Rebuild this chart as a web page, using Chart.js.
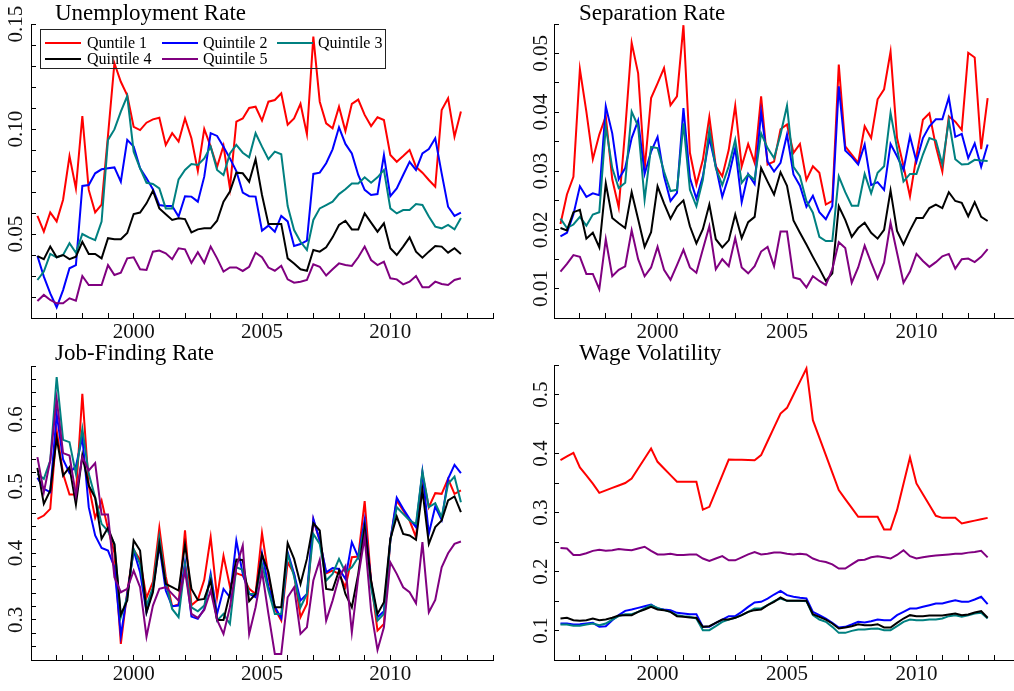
<!DOCTYPE html>
<html lang="en">
<head>
<meta charset="UTF-8">
<title>Labour market by quintile</title>
<script src="https://cdn.jsdelivr.net/npm/chart.js"></script>
<style>
  html, body { margin: 0; padding: 0; background: #fff; }
  body { width: 1014px; height: 691px; overflow: hidden; position: relative; font-family: "Liberation Serif", serif; }
  canvas { position: absolute; }
  .title { position: absolute; font-size: 23px; line-height: 23px; color: #000; white-space: nowrap; }
  #legend { position: absolute; left: 40px; top: 29px; width: 344px; height: 38px; border: 1px solid #222; }
  .lg-text { position: absolute; font-size: 16px; line-height: 16px; color: #000; white-space: nowrap; }
  .lg-line { position: absolute; width: 36px; height: 2px; }
</style>
</head>
<body>
<canvas id="unemp" width="500" height="352" style="left:0;top:0"></canvas>
<canvas id="sep" width="530" height="352" style="left:500px;top:0"></canvas>
<canvas id="jobfind" width="500" height="351" style="left:0;top:340px"></canvas>
<canvas id="wage" width="530" height="351" style="left:500px;top:340px"></canvas>
<div id="legend"></div>

<script>
// quarterly dates, 1996Q2 .. 2012Q4
const quarters = [];
for (let q = 0; q < 67; q++) quarters.push(1996.25 + q * 0.25);

const names = ["Quntile 1", "Quintile 2", "Quintile 3", "Quintile 4", "Quintile 5"];
const colors = ["#ff0000", "#0000ff", "#008080", "#000000", "#800080"];
const titles = ["Unemployment Rate", "Separation Rate", "Job-Finding Rate", "Wage Volatility"];

// Unemployment rate
const unemp1 = [0.0586,0.0511,0.0603,0.0560,0.0663,0.0871,0.0717,0.1062,0.0710,0.0603,0.0640,0.0970,0.1313,0.1225,0.1160,0.1010,0.0995,0.1030,0.1046,0.1054,0.0924,0.0980,0.0940,0.1050,0.0956,0.0800,0.1000,0.0916,0.0820,0.0920,0.0717,0.1035,0.1050,0.1100,0.1106,0.1040,0.1130,0.1138,0.1170,0.1020,0.1050,0.1120,0.0975,0.1440,0.1130,0.1027,0.1003,0.1106,0.0990,0.1120,0.1140,0.1067,0.1014,0.1056,0.1043,0.0876,0.0844,0.0871,0.0900,0.0820,0.0792,0.0757,0.0725,0.1090,0.1146,0.0963,0.1083];
const unemp2 = [0.0395,0.0297,0.0217,0.0151,0.0233,0.0337,0.0352,0.0729,0.0733,0.0789,0.0808,0.0813,0.0817,0.0749,0.0948,0.0916,0.0813,0.0765,0.0713,0.0638,0.0633,0.0633,0.0583,0.0680,0.0678,0.0654,0.0773,0.0980,0.0967,0.0916,0.0860,0.0800,0.0697,0.0680,0.0678,0.0516,0.0540,0.0511,0.0586,0.0560,0.0443,0.0452,0.0468,0.0786,0.0792,0.0837,0.0903,0.1008,0.0929,0.0884,0.0781,0.0710,0.0686,0.0690,0.0876,0.0680,0.0717,0.0781,0.0844,0.0805,0.0884,0.0905,0.0956,0.0789,0.0630,0.0586,0.0602];
const unemp3 = [0.0281,0.0321,0.0405,0.0389,0.0400,0.0456,0.0411,0.0500,0.0484,0.0471,0.0559,0.0948,0.0998,0.1083,0.1157,0.0892,0.0813,0.0744,0.0738,0.0717,0.0622,0.0622,0.0760,0.0805,0.0833,0.0829,0.0860,0.0916,0.0805,0.0781,0.0884,0.0924,0.0887,0.0865,0.0980,0.0916,0.0856,0.0892,0.0880,0.0633,0.0519,0.0463,0.0424,0.0567,0.0622,0.0638,0.0654,0.0690,0.0713,0.0741,0.0741,0.0770,0.0744,0.0770,0.0805,0.0622,0.0598,0.0614,0.0614,0.0643,0.0638,0.0583,0.0535,0.0527,0.0543,0.0522,0.0576];
const unemp4 = [0.0395,0.0380,0.0440,0.0389,0.0400,0.0380,0.0392,0.0463,0.0405,0.0405,0.0384,0.0480,0.0475,0.0475,0.0505,0.0595,0.0602,0.0646,0.0706,0.0622,0.0594,0.0567,0.0575,0.0571,0.0508,0.0522,0.0527,0.0527,0.0563,0.0654,0.0702,0.0792,0.0789,0.0749,0.0856,0.0686,0.0548,0.0548,0.0548,0.0384,0.0360,0.0332,0.0325,0.0424,0.0416,0.0437,0.0484,0.0543,0.0563,0.0522,0.0522,0.0598,0.0554,0.0511,0.0551,0.0432,0.0400,0.0440,0.0484,0.0416,0.0387,0.0416,0.0443,0.0440,0.0411,0.0432,0.0405];
const unemp5 = [0.0181,0.0210,0.0186,0.0170,0.0170,0.0194,0.0183,0.0300,0.0257,0.0257,0.0257,0.0352,0.0305,0.0316,0.0384,0.0389,0.0332,0.0329,0.0416,0.0421,0.0408,0.0380,0.0432,0.0427,0.0362,0.0413,0.0362,0.0440,0.0384,0.0321,0.0341,0.0341,0.0324,0.0344,0.0411,0.0389,0.0340,0.0325,0.0349,0.0284,0.0268,0.0273,0.0281,0.0356,0.0344,0.0302,0.0332,0.0360,0.0352,0.0348,0.0389,0.0440,0.0376,0.0352,0.0368,0.0289,0.0284,0.0260,0.0273,0.0300,0.0246,0.0246,0.0273,0.0262,0.0257,0.0281,0.0289];

// Separation rate
const sep1 = [0.0210,0.0260,0.0290,0.0473,0.0401,0.0320,0.0362,0.0393,0.0286,0.0238,0.0370,0.0518,0.0466,0.0303,0.0424,0.0449,0.0475,0.0412,0.0427,0.0548,0.0331,0.0277,0.0319,0.0392,0.0308,0.0291,0.0336,0.0411,0.0308,0.0346,0.0314,0.0427,0.0311,0.0316,0.0371,0.0379,0.0331,0.0346,0.0285,0.0308,0.0297,0.0243,0.0249,0.0481,0.0342,0.0328,0.0314,0.0376,0.0356,0.0422,0.0439,0.0503,0.0356,0.0308,0.0257,0.0325,0.0387,0.0398,0.0342,0.0299,0.0393,0.0384,0.0370,0.0501,0.0493,0.0337,0.0424];
const sep2 = [0.0189,0.0195,0.0226,0.0274,0.0256,0.0262,0.0259,0.0410,0.0364,0.0286,0.0305,0.0356,0.0386,0.0295,0.0333,0.0358,0.0291,0.0249,0.0263,0.0407,0.0288,0.0253,0.0291,0.0356,0.0308,0.0256,0.0291,0.0339,0.0247,0.0295,0.0278,0.0401,0.0316,0.0299,0.0314,0.0362,0.0294,0.0275,0.0239,0.0258,0.0230,0.0218,0.0240,0.0444,0.0335,0.0324,0.0311,0.0345,0.0276,0.0281,0.0268,0.0346,0.0325,0.0302,0.0359,0.0316,0.0356,0.0376,0.0388,0.0388,0.0425,0.0358,0.0363,0.0322,0.0347,0.0307,0.0345];
const sep3 = [0.0219,0.0203,0.0209,0.0222,0.0207,0.0226,0.0230,0.0376,0.0305,0.0271,0.0280,0.0401,0.0376,0.0251,0.0341,0.0339,0.0299,0.0266,0.0268,0.0381,0.0268,0.0240,0.0285,0.0370,0.0305,0.0276,0.0308,0.0353,0.0280,0.0294,0.0285,0.0364,0.0339,0.0322,0.0362,0.0411,0.0307,0.0291,0.0249,0.0229,0.0188,0.0181,0.0181,0.0291,0.0264,0.0241,0.0241,0.0295,0.0262,0.0297,0.0308,0.0399,0.0339,0.0282,0.0295,0.0295,0.0328,0.0356,0.0352,0.0311,0.0386,0.0320,0.0311,0.0312,0.0319,0.0318,0.0317];
const sep4 = [0.0203,0.0199,0.0230,0.0234,0.0185,0.0195,0.0170,0.0279,0.0220,0.0211,0.0203,0.0264,0.0218,0.0171,0.0196,0.0274,0.0245,0.0219,0.0239,0.0250,0.0206,0.0177,0.0201,0.0243,0.0184,0.0170,0.0182,0.0226,0.0186,0.0213,0.0222,0.0305,0.0282,0.0260,0.0298,0.0275,0.0216,0.0195,0.0175,0.0154,0.0134,0.0113,0.0126,0.0240,0.0217,0.0188,0.0203,0.0212,0.0195,0.0185,0.0200,0.0267,0.0198,0.0175,0.0199,0.0220,0.0220,0.0237,0.0243,0.0237,0.0264,0.0249,0.0246,0.0223,0.0247,0.0222,0.0215];
const sep5 = [0.0129,0.0142,0.0157,0.0154,0.0125,0.0125,0.0099,0.0184,0.0121,0.0132,0.0138,0.0199,0.0150,0.0121,0.0136,0.0171,0.0132,0.0115,0.0140,0.0166,0.0136,0.0127,0.0167,0.0206,0.0133,0.0150,0.0138,0.0186,0.0136,0.0126,0.0138,0.0163,0.0171,0.0138,0.0197,0.0197,0.0119,0.0116,0.0102,0.0121,0.0113,0.0106,0.0133,0.0179,0.0169,0.0110,0.0136,0.0173,0.0144,0.0117,0.0144,0.0212,0.0161,0.0110,0.0129,0.0159,0.0147,0.0137,0.0145,0.0155,0.0159,0.0134,0.0150,0.0151,0.0145,0.0154,0.0167];

// Job-finding rate
const find1 = [0.4512,0.4562,0.4662,0.5835,0.5186,0.4877,0.4877,0.6384,0.5011,0.4527,0.4787,0.4362,0.4000,0.2640,0.3420,0.4050,0.3900,0.3330,0.3570,0.4380,0.3650,0.3200,0.3230,0.4340,0.3220,0.3300,0.3600,0.4240,0.3340,0.3960,0.3500,0.3700,0.3664,0.3464,0.3389,0.4298,0.3664,0.3164,0.2990,0.3863,0.3689,0.3040,0.3239,0.4497,0.4188,0.3698,0.3738,0.3689,0.3489,0.3938,0.3948,0.4777,0.3589,0.2840,0.2940,0.4188,0.4787,0.4637,0.4487,0.4238,0.5186,0.4687,0.4897,0.4887,0.5111,0.4887,0.4937];
const find2 = [0.5126,0.4962,0.4912,0.6085,0.5400,0.5200,0.5300,0.5735,0.4687,0.4263,0.4078,0.4038,0.3788,0.2765,0.3389,0.4038,0.3713,0.3114,0.3464,0.4113,0.3439,0.3204,0.3214,0.3863,0.3050,0.3015,0.3164,0.3689,0.3090,0.3464,0.3339,0.4188,0.3689,0.3389,0.3339,0.3998,0.3500,0.3199,0.3025,0.4013,0.3689,0.3289,0.3389,0.4512,0.4188,0.3713,0.3778,0.3763,0.3614,0.4163,0.3938,0.4497,0.3564,0.3040,0.3129,0.4188,0.4827,0.4662,0.4512,0.4388,0.5211,0.4288,0.4697,0.4497,0.5111,0.5321,0.5196];
const find3 = [0.5186,0.5111,0.5386,0.6634,0.5695,0.5660,0.5186,0.5860,0.5186,0.4837,0.4437,0.4328,0.4138,0.3040,0.3339,0.4063,0.3838,0.3214,0.3489,0.4238,0.3564,0.3164,0.3040,0.3828,0.3189,0.3129,0.3214,0.3639,0.2990,0.3090,0.2940,0.3788,0.3748,0.3390,0.3389,0.3838,0.3439,0.3090,0.3090,0.3988,0.3650,0.3189,0.3389,0.4288,0.4138,0.3589,0.3689,0.3913,0.3713,0.3788,0.3938,0.4398,0.3489,0.2990,0.3090,0.4188,0.4687,0.4587,0.4487,0.4438,0.5221,0.4687,0.4747,0.4537,0.5036,0.5146,0.4762];
const find4 = [0.5276,0.4737,0.4937,0.5725,0.5161,0.5286,0.4727,0.5461,0.5011,0.4827,0.4213,0.4378,0.4128,0.3080,0.3289,0.4188,0.4038,0.3114,0.3414,0.4138,0.3539,0.3489,0.3439,0.4128,0.3464,0.3299,0.3314,0.3589,0.3000,0.3000,0.3400,0.3903,0.3898,0.3280,0.3389,0.3978,0.3713,0.3189,0.3189,0.4148,0.3913,0.3539,0.3913,0.4447,0.4338,0.3464,0.3449,0.3738,0.3389,0.3189,0.3689,0.4388,0.3589,0.3090,0.3264,0.4213,0.4547,0.4288,0.4263,0.4198,0.4947,0.4138,0.4388,0.4487,0.4787,0.4847,0.4612];
const find5 = [0.5436,0.4912,0.5386,0.6310,0.5496,0.5461,0.4862,0.5436,0.5236,0.5346,0.4577,0.4577,0.3639,0.3414,0.3464,0.3738,0.3489,0.2750,0.3214,0.3464,0.3489,0.3389,0.3289,0.3738,0.3090,0.3030,0.3149,0.3439,0.3000,0.2790,0.3189,0.3788,0.4113,0.2790,0.3189,0.3728,0.3090,0.2490,0.2490,0.3339,0.3489,0.2790,0.2890,0.3589,0.3898,0.2990,0.3289,0.3639,0.3803,0.2815,0.3639,0.4238,0.3140,0.2550,0.2890,0.3863,0.3689,0.3489,0.3414,0.3249,0.4163,0.3114,0.3299,0.3788,0.3998,0.4138,0.4173];

// Wage volatility
const wage1 = [0.3887,0.3950,0.4010,0.3763,0.3630,0.3490,0.3333,0.3375,0.3417,0.3458,0.3500,0.3576,0.3746,0.3915,0.4085,0.3859,0.3746,0.3633,0.3520,0.3520,0.3520,0.3520,0.3050,0.3096,0.3363,0.3630,0.3898,0.3895,0.3892,0.3890,0.3887,0.3972,0.4207,0.4442,0.4678,0.4774,0.4996,0.5218,0.5441,0.4565,0.4269,0.3972,0.3676,0.3379,0.3228,0.3078,0.2927,0.2927,0.2927,0.2927,0.2712,0.2712,0.3040,0.3486,0.3932,0.3492,0.3309,0.3127,0.2944,0.2909,0.2909,0.2909,0.2814,0.2838,0.2862,0.2885,0.2909];
const wage2 = [0.1119,0.1119,0.1102,0.1107,0.1119,0.1130,0.1062,0.1073,0.1175,0.1260,0.1333,0.1356,0.1384,0.1412,0.1441,0.1373,0.1356,0.1345,0.1299,0.1288,0.1277,0.1277,0.1062,0.1062,0.1130,0.1186,0.1243,0.1243,0.1316,0.1401,0.1475,0.1486,0.1542,0.1610,0.1672,0.1599,0.1571,0.1554,0.1542,0.1316,0.1260,0.1203,0.1130,0.1051,0.1062,0.1102,0.1147,0.1136,0.1158,0.1186,0.1175,0.1175,0.1260,0.1316,0.1373,0.1373,0.1401,0.1429,0.1458,0.1458,0.1486,0.1514,0.1486,0.1486,0.1525,0.1571,0.1446];
const wage3 = [0.1102,0.1102,0.1079,0.1079,0.1102,0.1119,0.1090,0.1119,0.1186,0.1243,0.1277,0.1277,0.1316,0.1373,0.1429,0.1384,0.1345,0.1316,0.1260,0.1243,0.1232,0.1203,0.1006,0.1006,0.1073,0.1147,0.1186,0.1215,0.1260,0.1316,0.1373,0.1373,0.1429,0.1497,0.1542,0.1503,0.1503,0.1503,0.1497,0.1260,0.1186,0.1147,0.1062,0.0960,0.0960,0.0994,0.1017,0.1017,0.1028,0.1034,0.1006,0.1006,0.1073,0.1147,0.1186,0.1175,0.1175,0.1186,0.1186,0.1203,0.1243,0.1260,0.1232,0.1260,0.1288,0.1299,0.1203];
const wage4 = [0.1203,0.1215,0.1175,0.1164,0.1175,0.1203,0.1175,0.1186,0.1215,0.1254,0.1260,0.1260,0.1316,0.1356,0.1401,0.1356,0.1345,0.1316,0.1243,0.1232,0.1220,0.1215,0.1062,0.1073,0.1130,0.1186,0.1186,0.1215,0.1260,0.1316,0.1345,0.1356,0.1429,0.1486,0.1559,0.1503,0.1503,0.1503,0.1503,0.1277,0.1232,0.1186,0.1119,0.1034,0.1051,0.1073,0.1107,0.1090,0.1090,0.1107,0.1051,0.1051,0.1130,0.1203,0.1260,0.1243,0.1243,0.1254,0.1254,0.1254,0.1271,0.1288,0.1260,0.1271,0.1305,0.1328,0.1215];
const wage5 = [0.240,0.239,0.228,0.228,0.231,0.235,0.237,0.235,0.236,0.238,0.237,0.236,0.239,0.242,0.235,0.229,0.229,0.230,0.228,0.228,0.229,0.229,0.222,0.218,0.222,0.226,0.219,0.219,0.224,0.229,0.233,0.229,0.230,0.232,0.232,0.230,0.229,0.230,0.229,0.222,0.218,0.216,0.212,0.205,0.205,0.212,0.219,0.220,0.224,0.226,0.224,0.222,0.228,0.236,0.226,0.222,0.224,0.226,0.227,0.228,0.229,0.230,0.230,0.232,0.233,0.235,0.224];

Chart.defaults.font.family = "'Liberation Serif', 'Times New Roman', serif";
Chart.defaults.color = "#111";

function makePanel(id, series, cfg) {
  const datasets = series.map((vals, k) => ({
    label: names[k],
    data: quarters.map((x, i) => ({ x: x, y: vals[i] })),
    borderColor: colors[k],
    borderWidth: 2,
    pointRadius: 0,
    fill: false,
    tension: 0,
    order: series.length - k
  }));

  const isMajor = v => Math.abs(v / cfg.major - Math.round(v / cfg.major)) < 1e-6;

  new Chart(document.getElementById(id), {
    type: "line",
    data: { datasets: datasets },
    options: {
      responsive: false,
      animation: false,
      devicePixelRatio: 1,
      layout: { padding: { left: 0, right: cfg.padRight, top: cfg.padTop, bottom: 0 } },
      plugins: { legend: { display: false }, tooltip: { enabled: false }, title: { display: false } },
      scales: {
        x: {
          type: "linear",
          min: 1996,
          max: 2014,
          afterFit: s => { s.height = cfg.xHeight; },
          border: { display: true, color: "#000", width: 1 },
          grid: { drawOnChartArea: false, drawTicks: true, tickLength: -5, color: "#000" },
          ticks: {
            stepSize: 1, autoSkip: false, minRotation: 0, maxRotation: 0, padding: 7,
            font: { size: 21 },
            callback: v => (v % 5 === 0 ? String(v) : "")
          }
        },
        y: {
          type: "linear",
          min: cfg.yMin,
          max: cfg.yMax,
          afterFit: s => { s.width = cfg.yWidth; },
          border: { display: true, color: "#000", width: 1 },
          grid: { drawOnChartArea: false, drawTicks: true, tickLength: -5, color: "#000" },
          ticks: {
            stepSize: cfg.step, autoSkip: false, minRotation: 90, maxRotation: 90,
            crossAlign: "center", padding: cfg.yPad,
            font: { size: 21 },
            callback: v => (isMajor(v) ? v.toFixed(cfg.dec) : "")
          }
        }
      }
    }
  });
}

makePanel("unemp", [unemp1, unemp2, unemp3, unemp4, unemp5],
  { yMin: 0.01, yMax: 0.15, step: 0.01, major: 0.05, dec: 2, yPad: 1, yWidth: 31, padRight: 3, padTop: 24, xHeight: 34 });
makePanel("sep", [sep1, sep2, sep3, sep4, sep5],
  { yMin: 0.005, yMax: 0.055, step: 0.005, major: 0.01, dec: 2, yPad: -1, yWidth: 54, padRight: 10, padTop: 24, xHeight: 34 });
makePanel("jobfind", [find1, find2, find3, find4, find5],
  { yMin: 0.24, yMax: 0.68, step: 0.02, major: 0.1, dec: 1, yPad: 6, yWidth: 31, padRight: 3, padTop: 26, xHeight: 31 });
makePanel("wage", [wage1, wage2, wage3, wage4, wage5],
  { yMin: 0.05, yMax: 0.55, step: 0.05, major: 0.1, dec: 1, yPad: 4, yWidth: 54, padRight: 10, padTop: 25, xHeight: 31 });

// panel titles
const titlePos = [[55, 1], [579, 1], [55, 341], [579, 341]];
titles.forEach((t, k) => {
  const d = document.createElement("div");
  d.className = "title";
  d.textContent = t;
  d.style.left = titlePos[k][0] + "px";
  d.style.top = titlePos[k][1] + "px";
  document.body.appendChild(d);
});

// legend box in the unemployment panel, 3 columns
const legend = document.getElementById("legend");
const colLine = [4, 121, 236];
const colText = [46, 162, 277];
names.forEach((n, k) => {
  const row = Math.floor(k / 3), col = k % 3;
  const ln = document.createElement("div");
  ln.className = "lg-line";
  ln.style.background = colors[k];
  ln.style.left = colLine[col] + "px";
  ln.style.top = (11.7 + row * 16.6) + "px";
  legend.appendChild(ln);
  const tx = document.createElement("div");
  tx.className = "lg-text";
  tx.textContent = n;
  tx.style.left = colText[col] + "px";
  tx.style.top = (4.6 + row * 16) + "px";
  legend.appendChild(tx);
});
</script>
</body>
</html>
